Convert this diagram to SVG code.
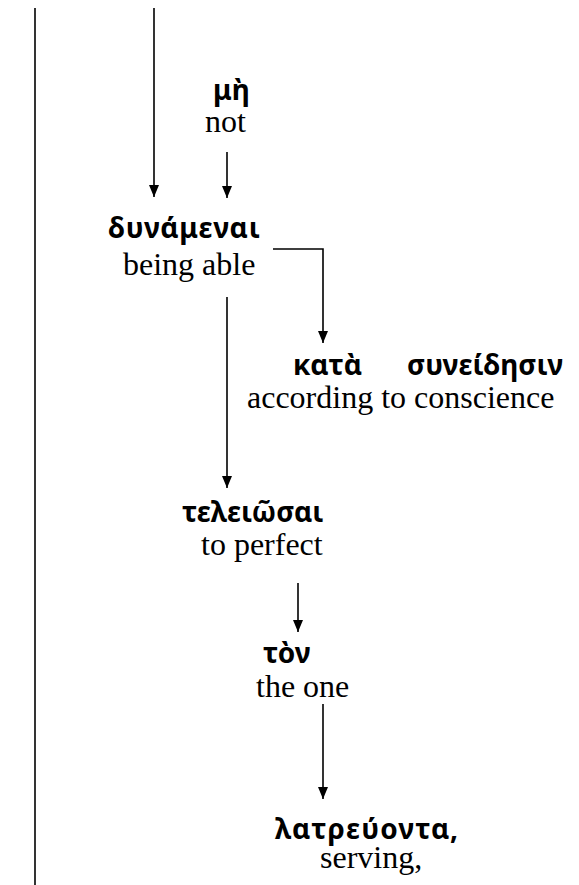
<svg xmlns="http://www.w3.org/2000/svg" width="579" height="885" viewBox="0 0 579 885">
  <style>
    .gk { font-family: "Noto Sans", "DejaVu Sans", sans-serif; font-weight: bold; font-size: 28px; fill: #000; }
    .en { font-family: "Liberation Serif", "Times New Roman", serif; font-size: 32px; fill: #000; }
    .ln { stroke: #000; stroke-width: 1.6; fill: none; }
  </style>
  <defs>
    <!-- solid triangular arrowhead; tip sits on the end of the line -->
    <marker id="arrow" viewBox="0 0 12 10" refX="12" refY="5" markerWidth="12" markerHeight="10" markerUnits="userSpaceOnUse" orient="auto">
      <path d="M0,0 L12,5 L0,10 Z" fill="#000"/>
    </marker>
  </defs>
  <rect width="579" height="885" fill="#fff"/>

  <g id="connectors">
    <line class="ln" x1="35" y1="8" x2="35" y2="885"/>
    <path class="ln" d="M154,8 V197" marker-end="url(#arrow)"/>
    <path class="ln" d="M227,152 V198" marker-end="url(#arrow)"/>
    <path class="ln" d="M273,249 H323 V343" marker-end="url(#arrow)"/>
    <path class="ln" d="M227,297 V488" marker-end="url(#arrow)"/>
    <path class="ln" d="M298,583 V632" marker-end="url(#arrow)"/>
    <path class="ln" d="M323,704 V799" marker-end="url(#arrow)"/>
  </g>

  <g id="node-me">
    <text class="gk" x="213" y="100">μὴ</text>
    <text class="en" x="205" y="132">not</text>
  </g>
  <g id="node-dunamenai">
    <text class="gk" x="108" y="238" textLength="152">δυνάμεναι</text>
    <text class="en" x="123" y="275">being able</text>
  </g>
  <g id="node-kata">
    <text class="gk" x="293" y="375">κατὰ</text>
    <text class="gk" x="407" y="375">συνείδησιν</text>
    <text class="en" x="247" y="408">according to conscience</text>
  </g>
  <g id="node-teleiosai">
    <text class="gk" x="182" y="522">τελειῶσαι</text>
    <text class="en" x="201" y="555">to perfect</text>
  </g>
  <g id="node-ton">
    <text class="gk" x="263" y="663">τὸν</text>
    <text class="en" x="256" y="697">the one</text>
  </g>
  <g id="node-latreuonta">
    <text class="gk" x="275" y="839" textLength="183">λατρεύοντα,</text>
    <text class="en" x="320" y="868">serving,</text>
  </g>
</svg>
